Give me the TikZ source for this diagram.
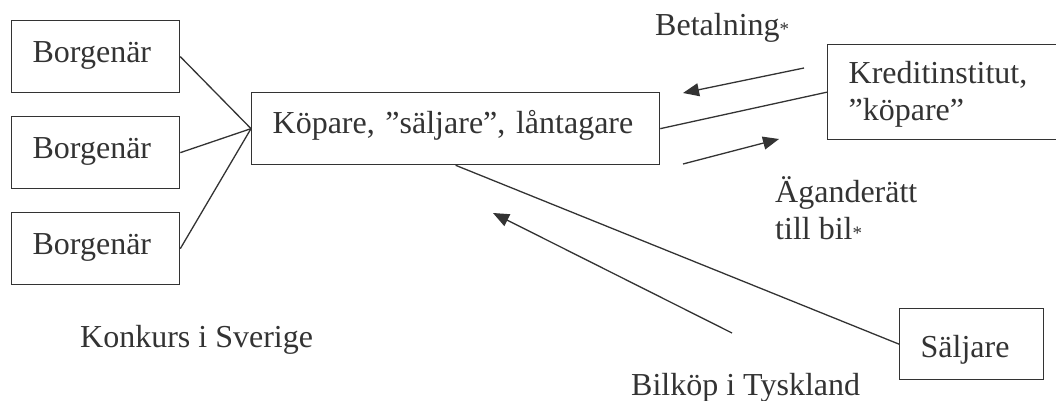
\documentclass[tikz,border=0pt]{standalone}
\usepackage{fontspec}
\setmainfont{Liberation Serif}
\usetikzlibrary{arrows.meta}
\definecolor{ink}{HTML}{333333}
\tikzset{
  base font/.style={font=\fontsize{32}{37}\selectfont, text=ink},
  boxnode/.style={base font, draw=ink, line width=1.3pt, anchor=north west,
    inner xsep=21pt, inner ysep=0pt, align=left},
  label text/.style={base font, inner sep=0pt, align=left},
  link/.style={draw=ink, line width=1.3pt},
  flow/.style={draw=ink, line width=1.3pt, -{Triangle[length=16pt,width=13pt]}},
}
\newcommand{\smallstar}{{\fontsize{19}{19}\selectfont *}}
\begin{document}
\begin{tikzpicture}[x=1pt,y=-1pt]
\useasboundingbox (0,0) rectangle (1056,401);
% boxes
\node[boxnode, text width=126pt, text height=42pt, text depth=30pt] (b1) at (11,20) {Borgenär};
\node[boxnode, text width=126pt, text height=42pt, text depth=30pt] (b2) at (11,116) {Borgenär};
\node[boxnode, text width=126pt, text height=42pt, text depth=30pt] (b3) at (11,212) {Borgenär};
\node[boxnode, text width=366pt, text height=41pt, text depth=31pt] (main) at (251,92) {Köpare, ”säljare”, låntagare};
\node[boxnode, text width=240pt, text height=39pt, text depth=56pt] (kredit) at (827,44) {Kreditinstitut,\\”köpare”};
\node[boxnode, text width=102pt, text height=49pt, text depth=22pt] (saljare) at (899,308) {Säljare};
% connectors
\draw[link] (b1.east) -- (main.west);
\draw[link] (b2.east) -- (main.west);
\draw[link] (b3.east) -- (main.west);
\draw[link] (main.east) -- (kredit.west);
\draw[link] (main.south) -- (saljare.west);
% flow arrows
\coordinate (payS) at (804,68);
\coordinate (payE) at (683,93);
\coordinate (ownS) at (683,164);
\coordinate (ownE) at (779,139);
\coordinate (buyS) at (732,333);
\coordinate (buyE) at (493,213);
\draw[flow] (payS) -- (payE);
\draw[flow] (ownS) -- (ownE);
\draw[flow] (buyS) -- (buyE);
% labels
\node[label text, anchor=base west] (betal) at (655,36) {Betalning\smallstar};
\node[label text, anchor=south west, text depth=0pt] (agande) at (775,240) {Äganderätt\\till bil\smallstar};
\node[label text, anchor=base west] (konkurs) at (80,347) {Konkurs i Sverige};
\node[label text, anchor=base west] (bilkop) at (631,395) {Bilköp i Tyskland};
\end{tikzpicture}
\end{document}
